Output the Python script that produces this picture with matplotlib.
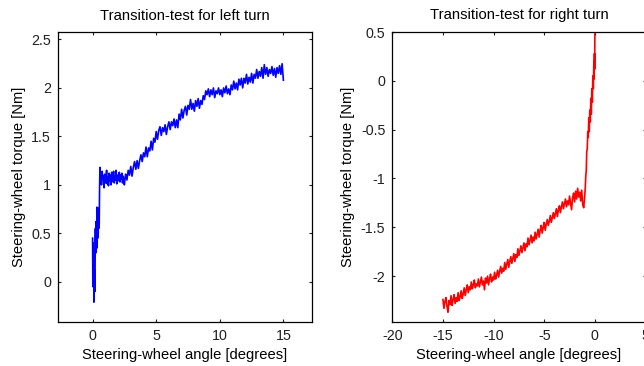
import matplotlib
matplotlib.use("Agg")
import matplotlib.pyplot as plt

plt.rcParams['font.family'] = ['Liberation Sans', 'DejaVu Sans']

# ---- left turn: steering-wheel angle [deg] vs torque [Nm] ----
left_angle = [
    0.00, 0.02, 0.04, 0.06, 0.08, 0.10, 0.12, 0.14, 0.16, 0.18,
    0.20, 0.22, 0.24, 0.26, 0.28, 0.30, 0.32, 0.34, 0.36, 0.38,
    0.40, 0.42, 0.44, 0.46, 0.48, 0.50, 0.52, 0.55, 0.58, 0.62,
    0.66, 0.70, 0.75, 0.80, 0.85, 0.90, 0.95, 1.00, 1.05, 1.10,
    1.15, 1.20, 1.25, 1.30, 1.35, 1.40, 1.45, 1.50, 1.55, 1.60,
    1.65, 1.70, 1.75, 1.80, 1.85, 1.90, 1.95, 2.00, 2.05, 2.10,
    2.15, 2.20, 2.25, 2.30, 2.35, 2.40, 2.45, 2.50, 2.55,
    2.6, 2.7, 2.8, 2.9, 3.0, 3.1, 3.2, 3.3, 3.4, 3.5,
    3.6, 3.7, 3.8, 3.9, 4.0, 4.1, 4.2, 4.3, 4.4, 4.5,
    4.6, 4.7, 4.8, 4.9, 5.0, 5.1, 5.2, 5.3, 5.4, 5.5,
    5.6, 5.7, 5.8, 5.9, 6.0, 6.1, 6.2, 6.3, 6.4, 6.5,
    6.6, 6.7, 6.8, 6.9, 7.0, 7.1, 7.2, 7.3, 7.4, 7.5,
    7.6, 7.7, 7.8, 7.9, 8.0, 8.1, 8.2, 8.3, 8.4, 8.5,
    8.6, 8.7, 8.8, 8.9, 9.0, 9.1, 9.2, 9.3, 9.4, 9.5,
    9.6, 9.7, 9.8, 9.9, 10.0, 10.1, 10.2, 10.3, 10.4, 10.5,
    10.6, 10.7, 10.8, 10.9, 11.0, 11.1, 11.2, 11.3, 11.4, 11.5,
    11.6, 11.7, 11.8, 11.9, 12.0, 12.1, 12.2, 12.3, 12.4, 12.5,
    12.6, 12.7, 12.8, 12.9, 13.0, 13.1, 13.2, 13.3, 13.4, 13.5,
    13.6, 13.7, 13.8, 13.9, 14.0, 14.1, 14.2, 14.3, 14.4, 14.5,
    14.6, 14.7, 14.8, 14.9, 15.0,
]
left_torque = [
    0.45, -0.05, 0.40, 0.10, 0.35, -0.21, 0.15, -0.05, 0.12, -0.10,
    0.30, 0.55, 0.35, 0.62, 0.30, 0.58, 0.40, 0.77, 0.35, 0.70,
    0.45, 0.75, 0.50, 0.72, 0.55, 0.76, 0.60, 0.98, 1.18, 1.02,
    1.12, 1.00, 1.14, 1.06, 1.09, 0.97, 1.11, 1.02, 1.05, 1.15,
    1.01, 1.08, 0.99, 1.12, 1.04, 1.10, 1.00, 1.13, 1.07, 1.03,
    1.14, 1.02, 1.09, 1.05, 1.15, 1.01, 1.10, 1.04, 1.08, 1.13,
    1.03, 1.10, 1.06, 1.12, 1.02, 1.09, 1.04, 1.00, 1.07,
    1.11, 1.05, 1.15, 1.10, 1.19, 1.09, 1.18, 1.24, 1.16, 1.25,
    1.17, 1.25, 1.31, 1.24, 1.33, 1.29, 1.39, 1.29, 1.38, 1.35,
    1.45, 1.36, 1.48, 1.44, 1.55, 1.47, 1.56, 1.60, 1.51, 1.59,
    1.55, 1.62, 1.52, 1.60, 1.65, 1.57, 1.65, 1.61, 1.68, 1.59,
    1.67, 1.59, 1.73, 1.67, 1.78, 1.69, 1.77, 1.81, 1.72, 1.82,
    1.78, 1.88, 1.78, 1.84, 1.76, 1.87, 1.81, 1.89, 1.79, 1.87,
    1.83, 1.92, 1.88, 1.97, 1.93, 1.99, 1.91, 1.98, 1.93, 2.00,
    1.90, 1.97, 1.94, 2.00, 1.93, 1.98, 1.91, 2.00, 1.95, 2.02,
    1.94, 1.99, 1.93, 2.03, 1.98, 2.07, 1.99, 2.05, 1.98, 2.09,
    2.03, 2.10, 2.00, 2.10, 2.05, 2.14, 2.04, 2.11, 2.06, 2.15,
    2.05, 2.14, 2.10, 2.19, 2.10, 2.17, 2.12, 2.21, 2.10, 2.24,
    2.14, 2.21, 2.12, 2.19, 2.15, 2.22, 2.13, 2.20, 2.11, 2.21,
    2.15, 2.23, 2.14, 2.25, 2.08,
]

# ---- right turn ----
right_angle = [
    -15.0, -14.9, -14.8, -14.7, -14.6, -14.5, -14.4, -14.3, -14.2, -14.1,
    -14.0, -13.9, -13.8, -13.7, -13.6, -13.5, -13.4, -13.3, -13.2, -13.1,
    -13.0, -12.9, -12.8, -12.7, -12.6, -12.5, -12.4, -12.3, -12.2, -12.1,
    -12.0, -11.9, -11.8, -11.7, -11.6, -11.5, -11.4, -11.3, -11.2, -11.1,
    -11.0, -10.9, -10.8, -10.7, -10.6, -10.5, -10.4, -10.3, -10.2, -10.1,
    -10.0, -9.9, -9.8, -9.7, -9.6, -9.5, -9.4, -9.3, -9.2, -9.1,
    -9.0, -8.9, -8.8, -8.7, -8.6, -8.5, -8.4, -8.3, -8.2, -8.1,
    -8.0, -7.9, -7.8, -7.7, -7.6, -7.5, -7.4, -7.3, -7.2, -7.1,
    -7.0, -6.9, -6.8, -6.7, -6.6, -6.5, -6.4, -6.3, -6.2, -6.1,
    -6.0, -5.9, -5.8, -5.7, -5.6, -5.5, -5.4, -5.3, -5.2, -5.1,
    -5.0, -4.9, -4.8, -4.7, -4.6, -4.5, -4.4, -4.3, -4.2, -4.1,
    -4.0, -3.9, -3.8, -3.7, -3.6, -3.5, -3.4, -3.3, -3.2, -3.1,
    -3.0, -2.9, -2.8, -2.7, -2.6, -2.5, -2.4, -2.3, -2.2, -2.1,
    -2.0, -1.9, -1.8, -1.7, -1.6, -1.5, -1.4, -1.3, -1.2, -1.1,
    -1.0, -0.95, -0.90, -0.85, -0.80, -0.75, -0.70, -0.65, -0.60, -0.55,
    -0.50, -0.45, -0.40, -0.35, -0.30, -0.25, -0.20, -0.15, -0.10, -0.07,
    -0.04, -0.02, 0.00,
]
right_torque = [
    -2.24, -2.33, -2.26, -2.22, -2.31, -2.37, -2.25, -2.29, -2.20, -2.30,
    -2.24, -2.19, -2.28, -2.22, -2.26, -2.17, -2.25, -2.21, -2.15, -2.23,
    -2.18, -2.12, -2.20, -2.14, -2.09, -2.17, -2.11, -2.14, -2.06, -2.13,
    -2.09, -2.04, -2.12, -2.08, -2.10, -2.03, -2.11, -2.06, -2.01, -2.09,
    -2.05, -2.14, -2.02, -2.07, -2.00, -2.09, -2.03, -1.98, -2.06, -2.01,
    -2.04, -1.96, -2.03, -1.99, -1.94, -2.01, -1.95, -1.90, -1.97, -1.92,
    -1.95, -1.86, -1.93, -1.88, -1.83, -1.91, -1.85, -1.80, -1.87, -1.82,
    -1.77, -1.85, -1.78, -1.81, -1.72, -1.79, -1.74, -1.69, -1.76, -1.71,
    -1.66, -1.74, -1.67, -1.70, -1.61, -1.68, -1.63, -1.58, -1.66, -1.60,
    -1.64, -1.55, -1.62, -1.57, -1.52, -1.60, -1.53, -1.48, -1.56, -1.50,
    -1.45, -1.53, -1.47, -1.42, -1.48, -1.44, -1.38, -1.45, -1.40, -1.35,
    -1.41, -1.36, -1.31, -1.39, -1.32, -1.28, -1.35, -1.29, -1.24, -1.31,
    -1.26, -1.21, -1.29, -1.23, -1.27, -1.18, -1.25, -1.32, -1.20, -1.15,
    -1.24, -1.13, -1.21, -1.10, -1.19, -1.14, -1.23, -1.12, -1.27, -1.30,
    -1.18, -1.10, -0.98, -0.92, -0.72, -0.70, -0.52, -0.58, -0.38, -0.52,
    -0.30, -0.42, -0.18, -0.34, -0.08, -0.22, 0.05, -0.08, 0.20, 0.02,
    0.28, 0.12, 0.48,
]

W, H = 644, 366
fig = plt.figure(figsize=(W / 100, H / 100), dpi=100)


def axes_px(left, top, right, bottom):
    return fig.add_axes([left / W, 1 - bottom / H, (right - left) / W, (bottom - top) / H])


ax1 = axes_px(58, 32, 312, 322)
ax2 = axes_px(392.3, 32, 645.5, 322)

ax1.plot(left_angle, left_torque, color=(0, 0, 1), lw=1.2)
ax1.set_xlim(-2.72, 17.25)
ax1.set_ylim(-0.415, 2.577)
ax1.set_xticks([0, 5, 10, 15])
ax1.set_yticks([0, 0.5, 1, 1.5, 2, 2.5])
ax1.set_yticklabels(['0', '0.5', '1', '1.5', '2', '2.5'])
ax1.set_title('Transition-test for left turn', fontsize=10.7, pad=9)

ax2.plot(right_angle, right_torque, color=(1, 0, 0), lw=1.2)
ax2.set_xlim(-20, 5)
ax2.set_ylim(-2.47, 0.5)
ax2.set_xticks([-20, -15, -10, -5, 0, 5])
ax2.set_yticks([-2, -1.5, -1, -0.5, 0, 0.5])
ax2.set_yticklabels(['-2', '-1.5', '-1', '-0.5', '0', '0.5'])
ax2.set_xticklabels(['-20', '-15', '-10', '-5', '0', '5'])
ax2.set_title('Transition-test for right turn', fontsize=10.7, pad=9)

for ax in (ax1, ax2):
    ax.set_xlabel('Steering-wheel angle [degrees]', fontsize=10.6, labelpad=4)
    ax.set_ylabel('Steering-wheel torque [Nm]', fontsize=10.6, labelpad=4)
    ax.tick_params(direction='in', length=2.5, width=0.8, labelsize=10.3,
                   top=True, right=True, pad=5, colors='#202020')
    for s in ax.spines.values():
        s.set_linewidth(0.9)
        s.set_color('black')

fig.savefig('out.png', dpi=100)
